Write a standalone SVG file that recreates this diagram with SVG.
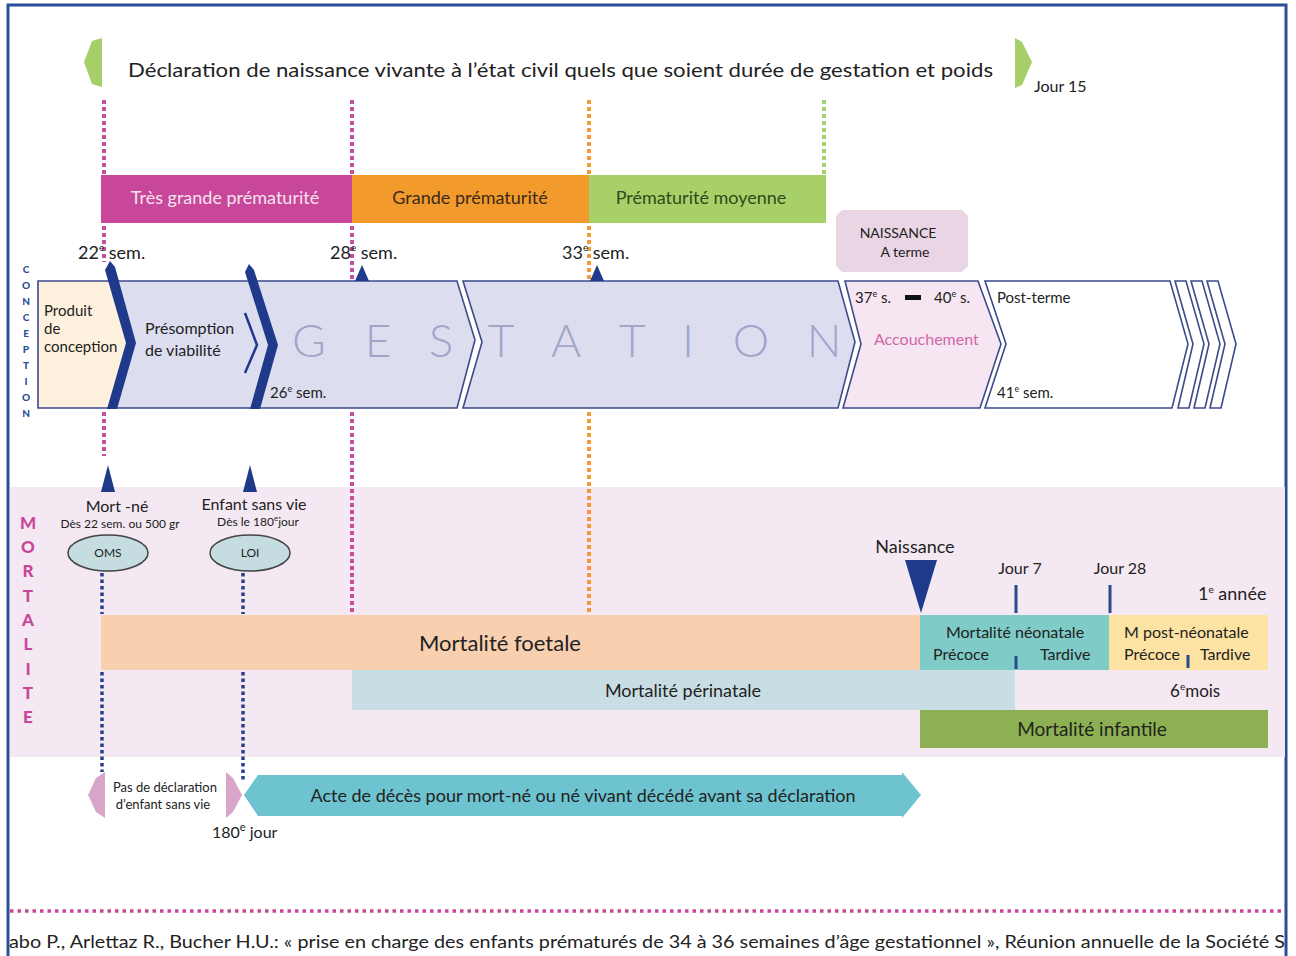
<svg xmlns="http://www.w3.org/2000/svg" width="1296" height="956" viewBox="0 0 1296 956">
<style>
text{font-family:Lato,"Open Sans","Liberation Sans",sans-serif;fill:#222}
.reg{stroke:#3d4a8c;stroke-width:1.6}
.lav{fill:#dcdef0}
.big{font-size:46px;fill:#a2a5c9;text-anchor:middle;font-weight:300}
.dotp{stroke:#c2509a;stroke-width:4;stroke-dasharray:4 3;fill:none}
.doto{stroke:#f29a38;stroke-width:4;stroke-dasharray:4 3;fill:none}
.dotg{stroke:#a6cf6a;stroke-width:4;stroke-dasharray:4 3;fill:none}
.dotb{stroke:#2a3f8a;stroke-width:3.5;stroke-dasharray:3.5 3;fill:none}
.tick{stroke:#2a4a8a;stroke-width:3}
.chev{fill:#1f3a8a}
.vc{font-size:10px;font-weight:900;fill:#2a4e9a;text-anchor:middle}
.vm{font-size:17px;font-weight:900;fill:#c9479a;text-anchor:middle}
.c{text-anchor:middle}
</style>

<g id="frame"><path d="M8,956 V5 H1286 V956" fill="none" stroke="#2a4e9a" stroke-width="3"/></g>

<g id="declaration">
<polygon points="102,38 92,41 84,62 92,84 102,87" fill="#a6cf6a"/>
<text x="128" y="77" font-size="19" textLength="865" lengthAdjust="spacingAndGlyphs">Déclaration de naissance vivante à l’état civil quels que soient durée de gestation et poids</text>
<polygon points="1015,38 1022,42 1032,62 1022,85 1015,88" fill="#a6cf6a"/>
<text x="1034" y="92" font-size="16">Jour 15</text>
</g>

<g id="mortalite-bg"><rect x="10" y="487" width="1275" height="270" fill="#f4e8f2"/></g>

<g id="connectors">
<line class="dotp" x1="104" y1="100" x2="104" y2="175"/>
<line class="dotp" x1="104" y1="226" x2="104" y2="262"/>
<line class="dotp" x1="104" y1="412" x2="104" y2="456"/>
<line class="dotp" x1="352" y1="100" x2="352" y2="175"/>
<line class="dotp" x1="352" y1="226" x2="352" y2="281"/>
<line class="dotp" x1="352" y1="412" x2="352" y2="614"/>
<line class="doto" x1="589" y1="100" x2="589" y2="175"/>
<line class="doto" x1="589" y1="226" x2="589" y2="281"/>
<line class="doto" x1="589" y1="412" x2="589" y2="614"/>
<line class="dotg" x1="824" y1="100" x2="824" y2="175"/>
<line class="dotb" x1="102" y1="573" x2="102" y2="614"/>
<line class="dotb" x1="102" y1="672" x2="102" y2="772"/>
<line class="dotb" x1="243" y1="573" x2="243" y2="614"/>
<line class="dotb" x1="243" y1="672" x2="243" y2="780"/>
<line x1="10" y1="911" x2="1285" y2="911" stroke="#c8479a" stroke-width="3.5" stroke-dasharray="3.5 4"/>
</g>

<g id="prematurite">
<rect x="101" y="175" width="251" height="48" fill="#c8479a"/>
<text x="225" y="204" font-size="18" class="c" style="fill:#f7e3ef">Très grande prématurité</text>
<rect x="352" y="175" width="237" height="48" fill="#f39a2c"/>
<text x="470" y="204" font-size="18" class="c" style="fill:#3a2a1a">Grande prématurité</text>
<rect x="589" y="175" width="237" height="48" fill="#a8d068"/>
<text x="701" y="204" font-size="18" class="c" style="fill:#2f4a1c">Prématurité moyenne</text>
</g>

<g id="semaines">
<text x="78" y="259" font-size="18">22<tspan font-size="10" dy="-8">e</tspan><tspan dy="8"> sem.</tspan></text>
<text x="330" y="259" font-size="18">28<tspan font-size="10" dy="-8">e</tspan><tspan dy="8"> sem.</tspan></text>
<text x="562" y="259" font-size="18">33<tspan font-size="10" dy="-8">e</tspan><tspan dy="8"> sem.</tspan></text>
</g>

<g id="naissance-terme">
<polygon points="842,210 962,210 968,216 968,266 962,272 842,272 836,266 836,216" fill="#ead5e5"/>
<text x="898" y="238" font-size="14" class="c">NAISSANCE</text>
<text x="905" y="257" font-size="14" class="c">A terme</text>
</g>

<g id="conception-label">
<text class="vc" x="26" y="273">C</text><text class="vc" x="26" y="289">O</text><text class="vc" x="26" y="305">N</text><text class="vc" x="26" y="321">C</text><text class="vc" x="26" y="337">E</text><text class="vc" x="26" y="353">P</text><text class="vc" x="26" y="369">T</text><text class="vc" x="26" y="385">I</text><text class="vc" x="26" y="401">O</text><text class="vc" x="26" y="417">N</text>
</g>

<g id="gestation">
<polygon class="reg" points="38,281 110,281 130,344 112,408 38,408" fill="#fdf1de"/>
<polygon class="reg lav" points="112,281 250,281 272,345 255,408 112,408 130,344"/>
<polygon class="reg lav" points="252,281 457,281 475,340 457,408 255,408 272,345"/>
<polygon class="reg lav" points="463,281 838,281 855,342 838,408 463,408 482,342"/>
<polygon class="reg" points="845,281 978,281 1001,344 980,408 843,408 861,344" fill="#f6e6f1"/>
<polygon class="reg" points="985,281 1170,281 1188,344 1172,408 985,408 1006,344" fill="#fff"/>
<polygon class="reg" points="1175,281 1186,281 1204,344 1189,408 1178,408 1193,344" fill="#fff"/>
<polygon class="reg" points="1191,281 1202,281 1220,344 1205,408 1194,408 1209,344" fill="#fff"/>
<polygon class="reg" points="1207,281 1218,281 1236,344 1221,408 1210,408 1225,344" fill="#fff"/>
<polygon class="chev" points="110,261 115,267 136,343 117,409 107,409 126,343 105,270"/>
<polygon class="chev" points="249,264 254,270 278,345 260,409 250,409 268,345 245,272"/>
<polyline points="245,313 257,345 245,373" fill="none" stroke="#1f3a8a" stroke-width="2.5"/>
<polygon points="355,281 362,265 369,281" fill="#1f3a8a"/>
<polygon points="590,281 597,265 604,281" fill="#1f3a8a"/>
<text x="44" y="316" font-size="15">Produit</text>
<text x="44" y="334" font-size="15">de</text>
<text x="44" y="352" font-size="15">conception</text>
<text x="145" y="334" font-size="16">Présomption</text>
<text x="145" y="356" font-size="16">de viabilité</text>
<text x="270" y="398" font-size="15">26<tspan font-size="9" dy="-6">e</tspan><tspan dy="6"> sem.</tspan></text>
<text class="big" x="309" y="357">G</text>
<text class="big" x="378" y="357">E</text>
<text class="big" x="441" y="357">S</text>
<text class="big" x="501" y="357">T</text>
<text class="big" x="566" y="357">A</text>
<text class="big" x="632" y="357">T</text>
<text class="big" x="688" y="357">I</text>
<text class="big" x="751" y="357">O</text>
<text class="big" x="824" y="357">N</text>
<text x="855" y="303" font-size="15">37<tspan font-size="9" dy="-6">e</tspan><tspan dy="6"> s.</tspan></text>
<rect x="905" y="295" width="16" height="5" fill="#111"/>
<text x="934" y="303" font-size="15">40<tspan font-size="9" dy="-6">e</tspan><tspan dy="6"> s.</tspan></text>
<text x="874" y="345" font-size="16" style="fill:#d067a8">Accouchement</text>
<text x="997" y="303" font-size="15">Post-terme</text>
<text x="997" y="398" font-size="15">41<tspan font-size="9" dy="-6">e</tspan><tspan dy="6"> sem.</tspan></text>
</g>

<g id="mortalite-label">
<text class="vm" x="28" y="529">M</text><text class="vm" x="28" y="553">O</text><text class="vm" x="28" y="577">R</text><text class="vm" x="28" y="602">T</text><text class="vm" x="28" y="626">A</text><text class="vm" x="28" y="650">L</text><text class="vm" x="28" y="675">I</text><text class="vm" x="28" y="699">T</text><text class="vm" x="28" y="723">E</text>
</g>

<g id="mort-ne">
<polygon points="101,492 108,465 115,492" fill="#1f3a8a"/>
<text x="117" y="512" font-size="16" class="c">Mort -né</text>
<text x="120" y="528" font-size="12" class="c">Dès 22 sem. ou 500 gr</text>
<ellipse cx="108" cy="553" rx="40" ry="18" fill="#c5dde0" stroke="#444" stroke-width="1.5"/>
<text x="108" y="557" font-size="12" class="c">OMS</text>
</g>

<g id="enfant-sans-vie">
<polygon points="243,492 250,465 257,492" fill="#1f3a8a"/>
<text x="254" y="510" font-size="16" class="c">Enfant sans vie</text>
<text x="258" y="526" font-size="12" class="c">Dès le 180<tspan font-size="8" dy="-5">e</tspan><tspan dy="5">jour</tspan></text>
<ellipse cx="250" cy="553" rx="40" ry="18" fill="#c5dde0" stroke="#444" stroke-width="1.5"/>
<text x="250" y="557" font-size="12" class="c">LOI</text>
</g>

<g id="mortalite-foetale">
<rect x="101" y="615" width="819" height="55" fill="#f8cfaf"/>
<text x="500" y="651" font-size="22" class="c">Mortalité foetale</text>
</g>

<g id="mortalite-neonatale">
<rect x="920" y="615" width="189" height="55" fill="#7ecbc8"/>
<text x="1015" y="638" font-size="16" class="c">Mortalité néonatale</text>
<text x="933" y="660" font-size="16">Précoce</text>
<text x="1040" y="660" font-size="16">Tardive</text>
</g>

<g id="mortalite-post-neonatale">
<rect x="1109" y="615" width="159" height="55" fill="#fde3a3"/>
<text x="1124" y="638" font-size="16">M post-néonatale</text>
<text x="1124" y="660" font-size="16">Précoce</text>
<text x="1200" y="660" font-size="16">Tardive</text>
</g>

<g id="mortalite-perinatale">
<rect x="352" y="670" width="663" height="40" fill="#c8dee4"/>
<text x="683" y="697" font-size="18" class="c">Mortalité périnatale</text>
</g>

<g id="mortalite-infantile">
<rect x="920" y="710" width="348" height="38" fill="#8db152"/>
<text x="1092" y="736" font-size="19" class="c">Mortalité infantile</text>
</g>

<g id="reperes">
<polygon points="905,560 937,560 921,613" fill="#1f3a8a"/>
<text x="915" y="553" font-size="18" class="c">Naissance</text>
<line class="tick" x1="1016" y1="585" x2="1016" y2="613"/>
<line class="tick" x1="1016" y1="656" x2="1016" y2="669"/>
<text x="1020" y="574" font-size="16" class="c">Jour 7</text>
<line class="tick" x1="1110" y1="585" x2="1110" y2="613"/>
<text x="1120" y="574" font-size="16" class="c">Jour 28</text>
<text x="1198" y="600" font-size="18">1<tspan font-size="10" dy="-7">e</tspan><tspan dy="7"> année</tspan></text>
<line class="tick" x1="1188" y1="655" x2="1188" y2="668"/>
<text x="1170" y="697" font-size="17">6<tspan font-size="10" dy="-7">e</tspan><tspan dy="7">mois</tspan></text>
</g>

<g id="pas-de-declaration">
<polygon points="105,772 96,778 88,795 96,812 105,818" fill="#d9a6c9"/>
<polygon points="226,772 233,778 242,795 233,812 226,818" fill="#d9a6c9"/>
<text x="165" y="792" font-size="13" class="c">Pas de déclaration</text>
<text x="163" y="809" font-size="13" class="c">d’enfant sans vie</text>
<text x="212" y="838" font-size="16">180<tspan font-size="11" dy="-7">e</tspan><tspan dy="7"> jour</tspan></text>
</g>

<g id="acte-deces">
<polygon points="258,775 902,775 902,772 921,795 902,818 902,816 258,816 244,795" fill="#6dc3cf"/>
<text x="583" y="802" font-size="18" class="c">Acte de décès pour mort-né ou né vivant décédé avant sa déclaration</text>
</g>

<g id="citation">
<text x="9" y="948" font-size="18" textLength="1276" lengthAdjust="spacingAndGlyphs">abo P., Arlettaz R., Bucher H.U.: « prise en charge des enfants prématurés de 34 à 36 semaines d’âge gestationnel », Réunion annuelle de la Société S</text>
</g>
</svg>
